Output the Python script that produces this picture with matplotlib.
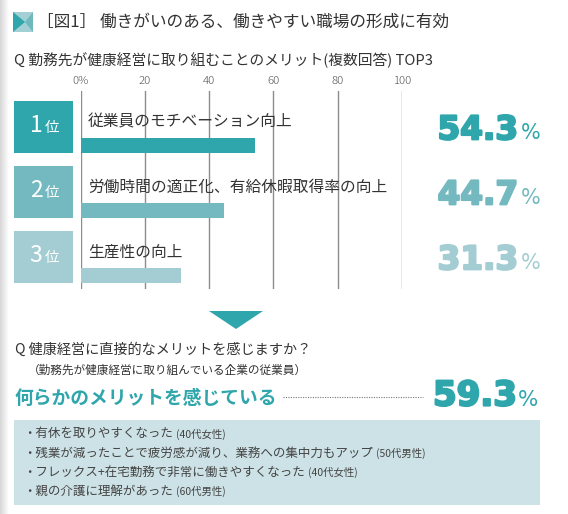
import numpy as np
import matplotlib
matplotlib.use("Agg")
import matplotlib.pyplot as plt
import matplotlib.patheffects as pe
from matplotlib.patches import Rectangle, Polygon

plt.rcParams['font.family'] = ['Noto Sans CJK JP', 'DejaVu Sans']

# data
title = "［図1］ 働きがいのある、働きやすい職場の形成に有効"
question1 = "Q 勤務先が健康経営に取り組むことのメリット(複数回答) TOP3"
ranks = ['1', '2', '3']
labels = ['従業員のモチベーション向上',
          '労働時間の適正化、有給休暇取得率の向上',
          '生産性の向上']
values = [54.3, 44.7, 31.3]
ticks = [0, 20, 40, 60, 80, 100]
tick_labels = ['0%', '20', '40', '60', '80', '100']

question2 = "Q 健康経営に直接的なメリットを感じますか？"
subnote = "（勤務先が健康経営に取り組んでいる企業の従業員）"
merit_label = "何らかのメリットを感じている"
merit_value = 59.3
comments = ['・有休を取りやすくなった',
            '・残業が減ったことで疲労感が減り、業務への集中力もアップ',
            '・フレックス+在宅勤務で非常に働きやすくなった',
            '・親の介護に理解があった']
comment_notes = ['(40代女性)', '(50代男性)', '(40代女性)', '(60代男性)']

# styles
rank_colors = ['#2ea6ac', '#73b9bf', '#a3cdd2']
teal = '#2ea6ac'
text_color = '#333333'
num_font = 'DejaVu Sans'

W, H = 568, 514
fig = plt.figure(figsize=(W / 100, H / 100), dpi=100)

# overlay axes in pixel coordinates
ax0 = fig.add_axes([0, 0, 1, 1])
ax0.axis('off')

# soft shadow on left edge
grad = np.linspace(0.84, 1.0, 50).reshape(1, -1)
ax0.imshow(grad, cmap='gray', vmin=0, vmax=1, extent=(0, 9, H, 0), aspect='auto')
ax0.set_xlim(0, W)
ax0.set_ylim(H, 0)

# title icon
ax0.add_patch(Polygon([(13, 12), (33, 12), (33, 32), (13, 32)], closed=True,
                      color='#a3d0d4', lw=0))
ax0.add_patch(Polygon([(13, 12), (25, 22), (13, 32)], closed=True, color=teal, lw=0))
ax0.add_patch(Polygon([(25, 22), (33, 12), (33, 32)], closed=True, color='#6fb8be', lw=0))

ax0.text(37, 22, title, fontsize=12, color=text_color, va='center', ha='left')
ax0.text(14, 60.5, question1, fontsize=10.6, color=text_color, va='center', ha='left')

# bar chart
left_px, right_px, top_px, bot_px = 80.7, 401.7, 91, 289
ax = fig.add_axes([left_px / W, 1 - bot_px / H,
                   (right_px - left_px) / W, (bot_px - top_px) / H])
ax.set_facecolor('none')
px_per_unit = 65.0
y0_px = 145.8
ax.set_ylim((bot_px - y0_px) / px_per_unit, (top_px - y0_px) / px_per_unit)
ax.set_xlim(0, 100)
for s in ax.spines.values():
    s.set_visible(False)
ax.set_xticks(ticks)
ax.set_xticklabels(tick_labels, fontsize=8.2, color='#555555', fontweight='light')
ax.set_yticks([])
ax.tick_params(axis='x', top=True, labeltop=True, bottom=False, labelbottom=False,
               length=0, pad=3)
ax.grid(axis='x', color='#8c8c8c', lw=1.0)
ax.set_axisbelow(True)

ypos = np.arange(len(values))
bar_h = 15.0 / px_per_unit
ax.barh(ypos, values, height=bar_h, color=rank_colors, zorder=3)

xu = lambda px: (px - left_px) / (right_px - left_px) * 100
box_h = 52.7 / px_per_unit
for i, (r, lab, v) in enumerate(zip(ranks, labels, values)):
    bottom = i + bar_h / 2
    ax.add_patch(Rectangle((xu(14), bottom - box_h), xu(72.7) - xu(14), box_h,
                           color=rank_colors[i], clip_on=False, lw=0))
    base = bottom - 21.0 / px_per_unit
    ax.text(xu(42.5), base, r, fontsize=16.5, color='white', ha='right',
            va='baseline', clip_on=False)
    ax.text(xu(45), base, '位', fontsize=10.5, color='white', ha='left',
            va='baseline', clip_on=False)
    ax.text(xu(88), i - 24.0 / px_per_unit, lab, fontsize=11.3, color=text_color,
            ha='left', va='center', clip_on=False)
    pbase = i - 6.5 / px_per_unit
    ax.text(xu(518), pbase, f'{v:.1f}', fontsize=23.5, fontweight='heavy',
            fontfamily=num_font, color=rank_colors[i], ha='right', va='baseline',
            clip_on=False,
            path_effects=[pe.withStroke(linewidth=1.6, foreground=rank_colors[i])])
    ax.text(xu(541), pbase, '%', fontsize=15, fontfamily=num_font,
            color=rank_colors[i], ha='right', va='baseline', clip_on=False)

# down arrow
ax0.add_patch(Polygon([(209, 311), (263, 311), (236, 329)], closed=True, color=teal, lw=0))

ax0.text(15, 350, question2, fontsize=10.2, color=text_color, va='center', ha='left')
ax0.text(28, 370, subnote, fontsize=8.4, color=text_color, va='center', ha='left')
ax0.text(15, 398, merit_label, fontsize=13.5, fontweight='bold', color=teal,
         va='center', ha='left')
ax0.plot([283, 423], [397, 397], ls=(0, (1, 1.2)), color='#777777', lw=0.8)
ax0.text(517, 405.5, f'{merit_value:.1f}', fontsize=24.5, fontweight='heavy',
         fontfamily=num_font, color=teal, ha='right', va='baseline',
         path_effects=[pe.withStroke(linewidth=1.6, foreground=teal)])
ax0.text(538, 405.5, '%', fontsize=15.5, fontfamily=num_font, color=teal,
         ha='right', va='baseline')

# comments box
ax0.add_patch(Rectangle((14, 420), 526, 85, color='#cde2e6', lw=0))
line_y = [434, 453, 472, 491]
for c, n, y in zip(comments, comment_notes, line_y):
    t = ax0.text(23, y, c, fontsize=9, color='#444444', va='center', ha='left')
    ax0.annotate(n, xy=(1, 0), xycoords=t, xytext=(2, 0.5), textcoords='offset points',
                 fontsize=7.5, color='#444444', va='bottom', ha='left')

fig.savefig('out.png', dpi=100)
